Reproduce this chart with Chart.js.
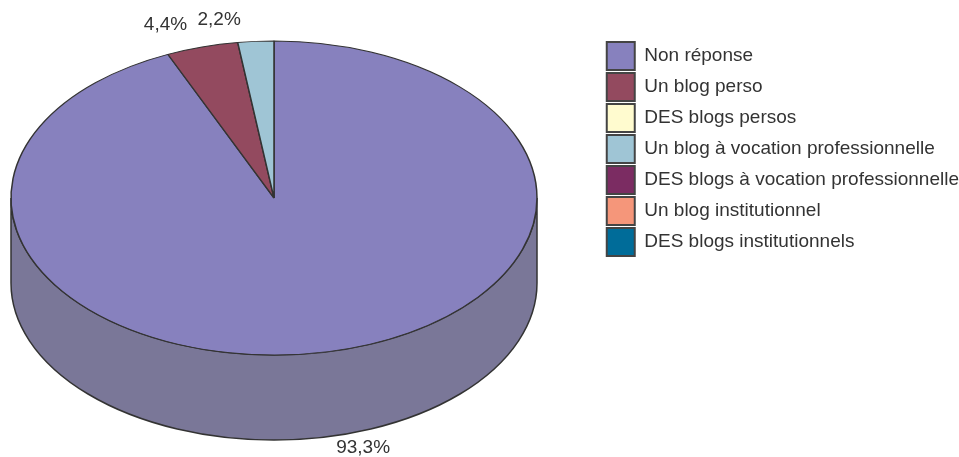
<!DOCTYPE html>
<html>
<head>
<meta charset="utf-8">
<script src="https://cdn.jsdelivr.net/npm/chart.js@4.4.1/dist/chart.umd.min.js"></script>
<style>
  body { margin: 0; background: #fff; }
  #wrap { position: relative; width: 959px; height: 457px; }
</style>
</head>
<body>
<div id="wrap"><canvas id="blogChart"></canvas></div>
<script>
const labels = [
  "Non réponse",
  "Un blog perso",
  "DES blogs persos",
  "Un blog à vocation professionnelle",
  "DES blogs à vocation professionnelle",
  "Un blog institutionnel",
  "DES blogs institutionnels",
];
const values = [93.3, 4.4, 0, 2.2, 0, 0, 0];
const colors = ["#8781be", "#934a5f", "#fffbcf", "#9fc5d5", "#7b2c62", "#f5967a", "#006c99"];

// where the flattened pie sits on the page
const CX = 274, CY = 198, RX = 263, RY = 157, DEPTH = 85;
const LINE = "#333333";

// darker colour for the side wall
function shade(hex) {
  const n = parseInt(hex.slice(1), 16);
  const mix = (c) => Math.round(c * 0.55 + 106 * 0.45);
  return "rgb(" + mix(n >> 16) + "," + mix((n >> 8) & 255) + "," + mix(n & 255) + ")";
}

function fmt(v) {
  return v.toFixed(1).replace(".", ",") + "%";
}

const pie3d = {
  id: "pie3d",
  beforeDatasetsDraw(chart) {
    const ctx = chart.ctx;
    const arcs = chart.getDatasetMeta(0).data;
    ctx.save();
    // side wall, only the front half is visible
    arcs.forEach((arc, i) => {
      if (!values[i]) return;
      [[0, Math.PI], [2 * Math.PI, 3 * Math.PI]].forEach(([lo, hi]) => {
        const a1 = Math.max(arc.startAngle, lo);
        const a2 = Math.min(arc.endAngle, hi);
        if (a2 <= a1) return;
        ctx.beginPath();
        ctx.moveTo(CX + RX * Math.cos(a1), CY + RY * Math.sin(a1));
        ctx.ellipse(CX, CY, RX, RY, 0, a1, a2);
        ctx.lineTo(CX + RX * Math.cos(a2), CY + DEPTH + RY * Math.sin(a2));
        ctx.ellipse(CX, CY + DEPTH, RX, RY, 0, a2, a1, true);
        ctx.closePath();
        ctx.fillStyle = shade(colors[i]);
        ctx.fill();
        ctx.lineWidth = 1.5;
        ctx.strokeStyle = LINE;
        ctx.stroke();
      });
    });
    // squash the round pie into the top ellipse
    const a = arcs[0];
    const r = a.outerRadius;
    ctx.translate(CX, CY);
    ctx.scale(RX / r, RY / r);
    ctx.translate(-a.x, -a.y);
  },
  afterDatasetsDraw(chart) {
    const ctx = chart.ctx;
    ctx.restore();
    const arcs = chart.getDatasetMeta(0).data;
    ctx.save();
    ctx.font = "19px 'Liberation Sans', Arial, sans-serif";
    ctx.fillStyle = "#333";
    ctx.textBaseline = "middle";
    arcs.forEach((arc, i) => {
      if (!values[i]) return;
      const mid = (arc.startAngle + arc.endAngle) / 2;
      const c = Math.cos(mid), s = Math.sin(mid);
      let x = CX + RX * c, y = CY + RY * s;
      if (s > 0) y += DEPTH;
      x += c > 0 ? 8 : -15;
      y += s > 0 ? 11 : -22;
      ctx.textAlign = c > 0 ? "left" : "right";
      ctx.fillText(fmt(values[i]), x, y);
    });
    ctx.restore();
  },
};

const data = {
  labels: labels,
  datasets: [
    {
      data: values,
      backgroundColor: colors,
      borderColor: LINE,
      borderWidth: 1.2,
      clip: false,
    },
  ],
};

const config = {
  type: "pie",
  data: data,
  plugins: [pie3d],
  options: {
    responsive: true,
    maintainAspectRatio: false,
    animation: false,
    events: [],
    layout: { padding: { top: 39, right: -10, left: 0, bottom: 0 } },
    plugins: {
      tooltip: { enabled: false },
      legend: {
        position: "right",
        align: "start",
        labels: {
          boxWidth: 28,
          boxHeight: 28,
          padding: 3,
          color: "#333",
          font: { family: "'Liberation Sans', Arial, sans-serif", size: 19 },
          generateLabels(chart) {
            const items = Chart.overrides.pie.plugins.legend.labels.generateLabels(chart);
            items.forEach((it) => {
              it.lineWidth = 2;
              it.strokeStyle = "#444";
              it.hidden = false;
            });
            return items;
          },
        },
      },
    },
  },
};

let myChart = new Chart(document.getElementById("blogChart"), config);
</script>
</body>
</html>
